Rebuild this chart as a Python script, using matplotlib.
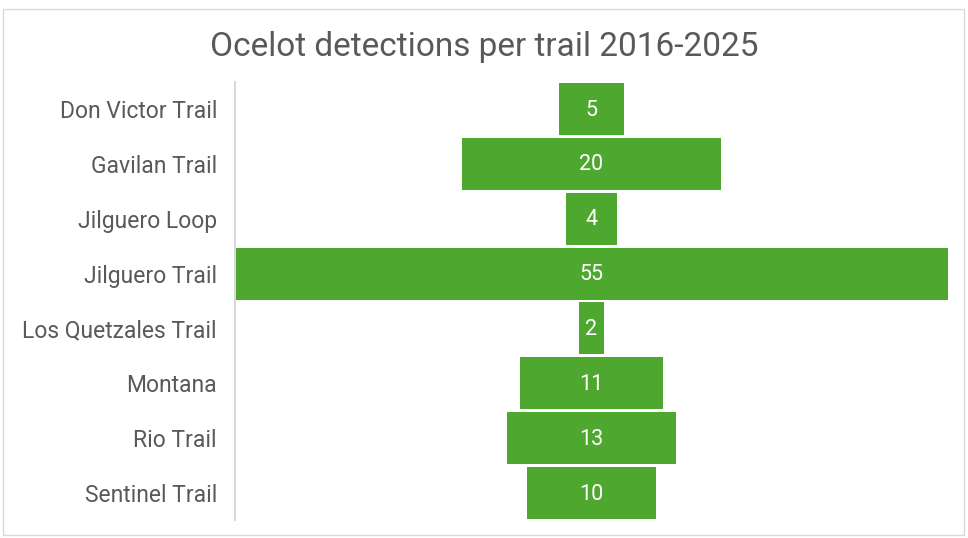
import matplotlib.pyplot as plt
from matplotlib.patches import Rectangle

trails = ["Don Victor Trail", "Gavilan Trail", "Jilguero Loop", "Jilguero Trail",
          "Los Quetzales Trail", "Montana", "Rio Trail", "Sentinel Trail"]
detections = [5, 20, 4, 55, 2, 11, 13, 10]

plt.rcParams['font.family'] = ['Roboto', 'DejaVu Sans']

fig = plt.figure(figsize=(9.68, 5.38), dpi=100)
# chart frame
fig.patches.append(Rectangle((3 / 968, 3 / 538), 961 / 968, 526 / 538,
                             transform=fig.transFigure, fill=False,
                             edgecolor='#d9d9d9', linewidth=1))

ax = fig.add_axes([235 / 968, 17.6 / 538, 713 / 968, 438.8 / 538])

# funnel: bars centred on zero
half = max(detections) / 2
y = range(len(trails))
lefts = [-v / 2 for v in detections]
ax.barh(y, detections, left=lefts, height=0.95, color='#4ea72e')
for i, v in enumerate(detections):
    ax.text(0, i + 0.02, str(v), ha='center', va='center', color='white', fontsize=15.5)

ax.set_xlim(-half, half)
ax.set_ylim(len(trails) - 0.5, -0.5)
ax.set_yticks(list(y))
ax.set_yticklabels(trails, fontsize=16.5, color='#595959')
ax.tick_params(axis='y', length=0, pad=13)
ax.set_xticks([])
for s in ['top', 'right', 'bottom']:
    ax.spines[s].set_visible(False)
ax.spines['left'].set_color('#d9d9d9')
ax.spines['left'].set_linewidth(1.5)

fig.suptitle("Ocelot detections per trail 2016-2025", y=1 - 47 / 538, va='center',
             fontsize=24, color='#595959')

fig.savefig("out.png", dpi=100)
